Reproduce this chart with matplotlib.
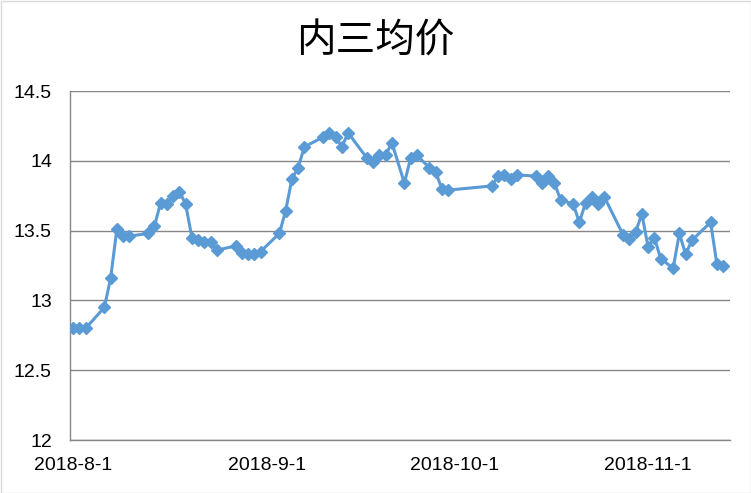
import matplotlib
matplotlib.use("Agg")
import matplotlib.pyplot as plt
import matplotlib.dates as mdates
import pandas as pd
from matplotlib.patches import Rectangle

title = "内三均价"
dates = [
    "2018-08-01", "2018-08-02", "2018-08-03", "2018-08-06", "2018-08-07", "2018-08-08", "2018-08-09", "2018-08-10",
    "2018-08-13", "2018-08-14", "2018-08-15", "2018-08-16", "2018-08-17", "2018-08-18", "2018-08-19", "2018-08-20",
    "2018-08-21", "2018-08-22", "2018-08-23", "2018-08-24",
    "2018-08-27", "2018-08-28", "2018-08-29", "2018-08-30", "2018-08-31",
    "2018-09-03", "2018-09-04", "2018-09-05", "2018-09-06", "2018-09-07",
    "2018-09-10", "2018-09-11", "2018-09-12", "2018-09-13", "2018-09-14",
    "2018-09-17", "2018-09-18", "2018-09-19", "2018-09-20", "2018-09-21",
    "2018-09-23", "2018-09-24", "2018-09-25",
    "2018-09-27", "2018-09-28", "2018-09-29", "2018-09-30",
    "2018-10-07", "2018-10-08", "2018-10-09", "2018-10-10", "2018-10-11",
    "2018-10-14", "2018-10-15", "2018-10-16", "2018-10-17", "2018-10-18",
    "2018-10-20", "2018-10-21", "2018-10-22", "2018-10-23", "2018-10-24", "2018-10-25",
    "2018-10-28", "2018-10-29", "2018-10-30", "2018-10-31",
    "2018-11-01", "2018-11-02", "2018-11-03",
    "2018-11-05", "2018-11-06", "2018-11-07", "2018-11-08",
    "2018-11-11", "2018-11-12", "2018-11-13",
]
prices = [
    12.80, 12.80, 12.80, 12.95, 13.16, 13.51, 13.46, 13.46,
    13.48, 13.53, 13.70, 13.69, 13.75, 13.78, 13.69, 13.45, 13.43, 13.42, 13.42, 13.36,
    13.39, 13.34, 13.33, 13.33, 13.35,
    13.48, 13.64, 13.87, 13.95, 14.10,
    14.17, 14.20, 14.17, 14.10, 14.20,
    14.02, 13.99, 14.04, 14.04, 14.13,
    13.84, 14.02, 14.04,
    13.95, 13.92, 13.80, 13.79,
    13.82, 13.89, 13.90, 13.87, 13.90,
    13.89, 13.84, 13.89, 13.84, 13.72,
    13.69, 13.56, 13.70, 13.74, 13.69, 13.74,
    13.47, 13.44, 13.49, 13.62,
    13.38, 13.45, 13.30,
    13.23, 13.48, 13.33, 13.43,
    13.56, 13.26, 13.25,
]
x_ticks = ["2018-08-01", "2018-09-01", "2018-10-01", "2018-11-01"]
x_tick_labels = ["2018-8-1", "2018-9-1", "2018-10-1", "2018-11-1"]
y_ticks = [12, 12.5, 13, 13.5, 14, 14.5]
y_tick_labels = ["12", "12.5", "13", "13.5", "14", "14.5"]

plt.rcParams['font.family'] = ['Liberation Sans', 'DejaVu Sans']

fig = plt.figure(figsize=(7.51, 4.93), dpi=100)
ax = fig.add_axes([70/751, 1-440/493, 660/751, 349/493])

dt = pd.to_datetime(dates)
color = "#5B9BD5"
ax.plot(dt, prices, color=color, linewidth=2.2, marker="D", markersize=6.5,
        markerfacecolor=color, markeredgecolor=color, zorder=3)

start = mdates.date2num(pd.Timestamp("2018-08-01"))
ax.set_xlim(start - 0.5, start + 105.1)
ax.set_ylim(12, 14.5)
ax.set_yticks(y_ticks)
ax.set_yticklabels(y_tick_labels)
ax.set_xticks(pd.to_datetime(x_ticks))
ax.set_xticklabels(x_tick_labels)

ax.grid(axis="y", color="#868686", linewidth=1)
ax.set_axisbelow(True)
for s in ["top", "right"]:
    ax.spines[s].set_visible(False)
for s in ["left", "bottom"]:
    ax.spines[s].set_color("#868686")
    ax.spines[s].set_linewidth(1)
ax.tick_params(axis="both", length=0, labelsize=14, colors="black")
ax.tick_params(axis="y", pad=13)
ax.tick_params(axis="x", pad=12)

fig.text(0.5, 1-42/493, title, ha="center", va="center", fontsize=28.5, fontweight="medium",
         family=["Noto Sans CJK SC", "DejaVu Sans"])

fig.patches.append(Rectangle((0.5/751, 0.5/493), 1-1/751, 1-1/493, transform=fig.transFigure,
                             fill=False, edgecolor="#D9D9D9", linewidth=1))

fig.savefig("out.png", dpi=100)
